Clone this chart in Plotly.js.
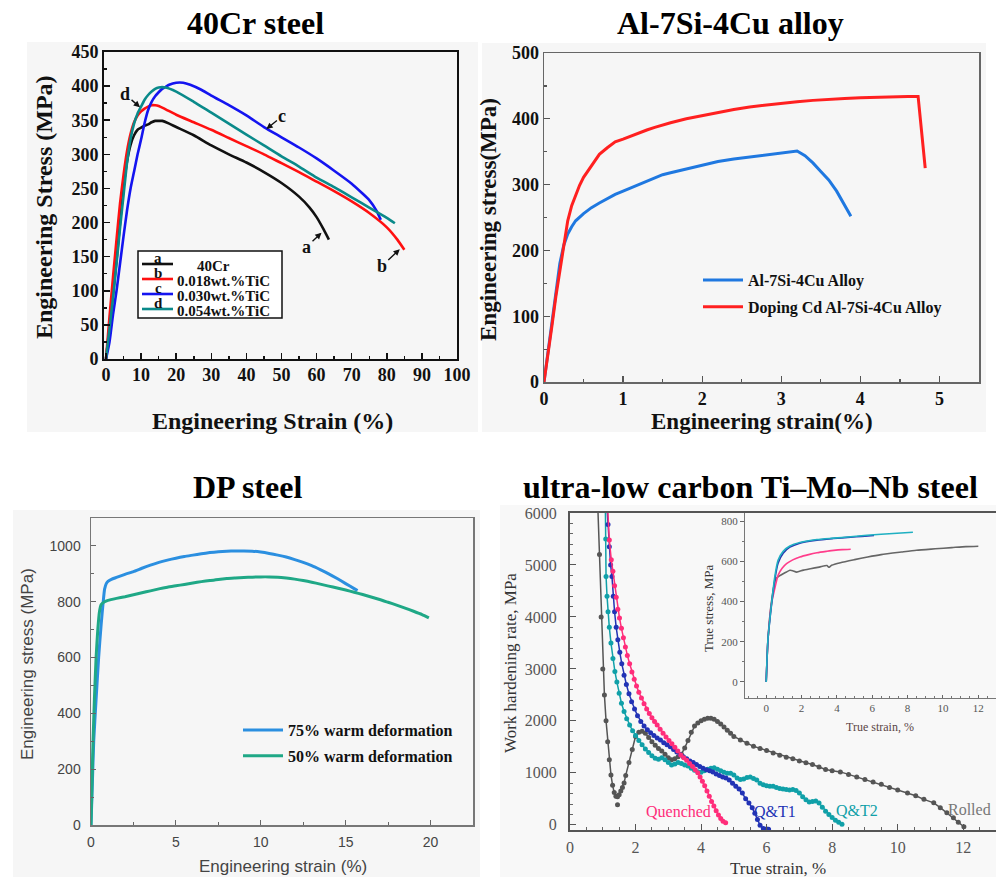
<!DOCTYPE html>
<html>
<head>
<meta charset="utf-8">
<script src="https://cdn.plot.ly/plotly-3.0.1.min.js"></script>
<style>html,body{margin:0;padding:0;background:#fff;}#chart{width:996px;height:877px;}</style>
</head>
<body>
<div id="chart"></div>
<script>
// ---------- Panel 1: 40Cr steel ----------
const cr_a_strain = [0,1,2,3,4,5,6,7,8,9,10,11,12,13,14,15,16,18,20,25,30,35,40,45,50,55,58,60,62,63.5];
const cr_a_stress = [0,47,95,145,200,252,290,314,328,336,339,342,344,347,349,349,349,345,340,328,313,300,288,274,258,238,222,208,190,175];
const cr_b_strain = [0,1,2,3,4,5,6,7,8,9,10,11,12,13,14,15,17,20,25,30,35,40,45,50,55,60,65,70,75,80,83,85];
const cr_b_stress = [0,62,120,175,228,270,305,330,347,357,363,367,370,372,372,371,366,358,347,336,324,312,300,287,274,260,246,231,214,193,175,160];
const cr_c_strain = [0,1,2,3,4,5,6,7,8,9,10,11,12,13,14,15,16,17,18,20,22,24,27,30,35,40,45,50,55,60,65,70,73,75,77,78.3];
const cr_c_stress = [0,25,65,100,140,180,218,250,275,300,322,346,365,377,385,391,396,399,402,405,405,402,395,386,372,357,340,325,310,294,276,257,243,233,218,204];
const cr_d_strain = [0,1,2,3,4,5,6,7,8,9,10,11,12,13,14,15,17,20,25,30,35,40,45,50,55,60,65,70,75,80,82.3];
const cr_d_stress = [0,45,90,140,192,240,288,323,345,360,370,380,387,392,396,398,398,392,377,361,345,329,313,297,282,266,252,237,222,207,199];
const cr_names = ['40Cr','0.018wt.%TiC','0.030wt.%TiC','0.054wt.%TiC'];
const cr_letters = ['a','b','c','d'];

// ---------- Panel 2: Al-7Si-4Cu alloy ----------
const al_base_strain = [0,0.05,0.1,0.15,0.2,0.25,0.3,0.35,0.4,0.5,0.6,0.7,0.8,0.9,1.0,1.1,1.2,1.3,1.4,1.5,1.6,1.8,2.0,2.2,2.4,2.6,2.8,3.0,3.1,3.2,3.3,3.4,3.5,3.6,3.7,3.8,3.88];
const al_base_stress = [0,45,95,140,180,208,225,236,245,256,265,272,279,285,290,295,300,305,310,315,318,324,330,335,339,342,346,349,350,351,344,333,320,307,290,270,252];
const al_cd_strain = [0,0.05,0.1,0.15,0.2,0.25,0.3,0.35,0.4,0.45,0.5,0.55,0.6,0.65,0.7,0.8,0.9,1.0,1.1,1.2,1.3,1.4,1.5,1.6,1.8,2.0,2.2,2.4,2.6,2.8,3.0,3.2,3.4,3.6,3.8,4.0,4.2,4.4,4.6,4.73,4.76,4.79,4.82];
const al_cd_stress = [0,40,85,130,170,210,245,268,285,299,311,320,328,337,346,356,365,369,374,379,383,387,391,394,400,405,410,414,418,421,424,426,428,430,431,432,433,434,434,434,400,360,325];
const al_names = ['Al-7Si-4Cu Alloy','Doping Cd Al-7Si-4Cu Alloy'];

// ---------- Panel 3: DP steel ----------
const dp75_strain = [0,0.08,0.16,0.3,0.45,0.6,0.72,0.8,0.9,1.0,1.2,1.5,2,2.5,3,3.5,4,4.5,5,5.5,6,6.5,7,7.5,8,8.5,9,9.5,10,10.5,11,11.5,12,12.5,13,13.5,14,14.5,15,15.5,15.7];
const dp75_stress = [0,150,300,450,600,720,800,845,865,873,880,887,898,908,920,931,941,949,956,962,967,972,976,979,981,982,982,981,978,973,967,960,951,941,929,915,900,883,865,847,840];
const dp50_strain = [0,0.06,0.12,0.2,0.3,0.4,0.5,0.6,0.8,1,1.5,2,2.5,3,3.5,4,4.5,5,5.5,6,6.5,7,7.5,8,8.5,9,9.5,10,10.5,11,11.5,12,12.5,13,13.5,14,14.5,15,15.5,16,16.5,17,17.5,18,18.5,19,19.5,19.9];
const dp50_stress = [0,150,300,450,600,700,765,790,800,805,812,818,825,832,839,846,852,857,862,867,872,876,880,883,885,887,888,889,889,888,885,881,876,870,863,856,849,842,834,826,817,808,798,788,777,766,754,742];
const dp_names = ['75% warm deformation','50% warm deformation'];

// ---------- Panel 4: ultra-low carbon Ti-Mo-Nb steel (work hardening rate) ----------
const q_strain = [1.15,1.2,1.26,1.31,1.36,1.41,1.46,1.51,1.57,1.63,1.69,1.75,1.82,1.89,1.96,2.03,2.1,2.18,2.26,2.34,2.42,2.5,2.58,2.66,2.75,2.84,2.93,3.02,3.11,3.2,3.29,3.38,3.47,3.56,3.65,3.74,3.82,3.9,3.97,4.04,4.11,4.18,4.25,4.32,4.39,4.46,4.53,4.6,4.67,4.75];
const q_rate = [6100,5480,5100,4880,4600,4380,4150,3980,3780,3600,3420,3260,3100,2940,2800,2670,2550,2440,2330,2230,2140,2060,1990,1920,1840,1760,1690,1620,1560,1490,1420,1345,1290,1240,1180,1120,1060,1000,920,840,750,650,550,450,360,270,190,120,70,40];
const qt1_strain = [1.13,1.16,1.2,1.24,1.28,1.32,1.36,1.41,1.46,1.52,1.58,1.65,1.72,1.8,1.88,1.97,2.06,2.16,2.26,2.36,2.46,2.56,2.66,2.76,2.86,2.96,3.06,3.16,3.26,3.36,3.46,3.56,3.66,3.76,3.86,3.96,4.06,4.16,4.26,4.36,4.46,4.56,4.66,4.76,4.86,4.96,5.06,5.16,5.26,5.36,5.46,5.56,5.64,5.72,5.8,5.9,6.0,6.06];
const qt1_rate = [6100,5780,5350,5000,4780,4400,4100,3800,3560,3320,3100,2880,2700,2520,2370,2230,2100,1990,1900,1830,1770,1720,1670,1630,1580,1540,1500,1450,1400,1355,1310,1270,1230,1200,1160,1120,1090,1060,1040,1015,980,950,920,900,860,800,740,690,610,500,420,330,220,100,-10,-70,-80,-85];
const qt2_strain = [1.08,1.09,1.1,1.13,1.16,1.2,1.25,1.31,1.37,1.43,1.5,1.57,1.65,1.73,1.82,1.91,2.0,2.1,2.2,2.3,2.4,2.5,2.6,2.7,2.8,2.9,3.0,3.1,3.2,3.3,3.4,3.5,3.6,3.7,3.8,3.9,4.0,4.1,4.2,4.3,4.4,4.5,4.6,4.7,4.8,4.9,5.0,5.1,5.2,5.3,5.4,5.5,5.6,5.7,5.8,5.9,6.0,6.1,6.2,6.3,6.4,6.5,6.6,6.7,6.8,6.9,7.0,7.1,7.2,7.3,7.4,7.5,7.6,7.7,7.8,7.9,8.0,8.1,8.2,8.3];
const qt2_rate = [6100,5500,4780,4400,4100,3800,3500,3200,2950,2750,2530,2340,2180,2040,1920,1810,1720,1620,1540,1460,1390,1330,1280,1260,1290,1250,1200,1150,1170,1200,1180,1150,1130,1090,1050,1020,1010,1040,1070,1090,1100,1070,1040,1010,990,990,960,900,870,880,910,920,890,860,800,770,750,740,740,720,700,690,680,670,680,660,610,540,480,440,450,460,420,340,260,200,140,90,50,10];
const rolled_strain = [0.85,0.9,0.95,1.0,1.05,1.1,1.15,1.2,1.25,1.3,1.35,1.4,1.45,1.5,1.55,1.6,1.65,1.7,1.8,1.9,2.0,2.1,2.2,2.3,2.4,2.5,2.6,2.7,2.8,2.9,3.0,3.1,3.2,3.3,3.4,3.5,3.6,3.7,3.8,3.9,4.0,4.1,4.2,4.3,4.4,4.5,4.6,4.7,4.8,4.9,5.0,5.2,5.4,5.6,5.8,6.0,6.2,6.4,6.6,6.8,7.0,7.2,7.4,7.6,7.8,8.0,8.25,8.5,8.75,9.0,9.25,9.5,9.75,10.0,10.3,10.55,10.8,11.1,11.3,11.5,11.7,11.85,12.02];
const rolled_rate = [6100,5200,4000,3000,2500,2000,1600,1250,960,760,620,550,540,580,650,720,806,950,1200,1450,1700,1780,1800,1760,1680,1600,1530,1470,1420,1360,1290,1250,1270,1310,1360,1480,1620,1780,1900,1960,2000,2030,2049,2050,2030,1990,1940,1880,1820,1760,1700,1633,1570,1510,1470,1430,1383,1340,1300,1270,1230,1195,1160,1110,1065,1040,1018,970,920,870,826,780,720,670,614,560,490,422,330,230,134,50,-38];
const rolled_extra_strain = [1.45];
const rolled_extra_rate = [384];
const hr_names = ['Quenched','Q&T1','Q&T2','Rolled'];

// ---------- Inset: true stress-strain ----------
const in_qt2_strain = [0,0.1,0.29,0.48,0.67,0.96,1.34,1.9,2.87,3.8,4.78,5.7,6.5,7.4,8.3];
const in_qt2_stress = [0,215,380,520,605,650,676,693,708,715,722,729,734,739,744];
const in_qt1_strain = [0,0.1,0.29,0.48,0.67,0.96,1.34,1.9,2.87,3.8,4.78,5.4,6.1];
const in_qt1_stress = [0,210,375,505,590,640,670,690,705,713,720,724,728];
const in_q_strain = [0,0.1,0.3,0.48,0.67,0.9,1.15,1.5,1.9,2.4,2.87,3.4,3.82,4.3,4.78];
const in_q_stress = [0,210,390,463,530,565,588,607,621,633,642,649,654,658,660];
const in_r_strain = [0,0.1,0.3,0.54,0.75,0.96,1.15,1.34,1.5,1.72,2.1,2.5,3.0,3.44,3.54,3.7,4.2,5.0,5.74,6.5,7.65,8.5,9.56,10.5,11.3,12];
const in_r_stress = [0,210,400,513,527,538,547,555,553,546,556,563,571,579,570,580,593,608,621,633,646,655,662,668,673,675];

// ---------- Styling helpers ----------
const SERIF = '"Liberation Serif", "Times New Roman", Times, serif';
const SANS = '"Liberation Sans", Arial, Helvetica, sans-serif';
const W = 996, H = 877;
const px = v => v / W;
const py = v => 1 - v / H;

const traces = [];
const crColors = ['#111111','#ff1010','#1414f0','#0a8a8a'];
const crX = [cr_a_strain, cr_b_strain, cr_c_strain, cr_d_strain];
const crY = [cr_a_stress, cr_b_stress, cr_c_stress, cr_d_stress];
for (let i = 0; i < 4; i++) {
  traces.push({x: crX[i], y: crY[i], xaxis:'x', yaxis:'y', type:'scatter', mode:'lines',
    name: cr_names[i], showlegend:false, line:{color:crColors[i], width:2.6, shape:'spline', smoothing:0.6}});
}
const alColors = ['#1f78e0','#ff2020'];
traces.push({x: al_base_strain, y: al_base_stress, xaxis:'x2', yaxis:'y2', type:'scatter', mode:'lines',
  name: al_names[0], legend:'legend2', legendgroup:'a1', line:{color:alColors[0], width:3}});
traces.push({x: al_cd_strain, y: al_cd_stress, xaxis:'x2', yaxis:'y2', type:'scatter', mode:'lines',
  name: al_names[1], legend:'legend2', legendgroup:'a2', line:{color:alColors[1], width:3}});

const dpColors = ['#2b8fe0','#1fa886'];
traces.push({x: dp75_strain, y: dp75_stress, xaxis:'x3', yaxis:'y3', type:'scatter', mode:'lines',
  name: dp_names[0], legend:'legend3', legendgroup:'d1', line:{color:dpColors[0], width:3, shape:'spline', smoothing:0.5}});
traces.push({x: dp50_strain, y: dp50_stress, xaxis:'x3', yaxis:'y3', type:'scatter', mode:'lines',
  name: dp_names[1], legend:'legend3', legendgroup:'d2', line:{color:dpColors[1], width:3, shape:'spline', smoothing:0.5}});

const hrColors = {q:'#ff2d7a', qt1:'#2233b5', qt2:'#10a0a8', r:'#555555'};
function hrTrace(x, y, c, name) {
  return {x, y, xaxis:'x4', yaxis:'y4', type:'scatter', mode:'lines+markers', name, showlegend:false,
    line:{color:c, width:1.5}, marker:{color:c, size:5}, cliponaxis:true};
}
traces.push(hrTrace(rolled_strain, rolled_rate, hrColors.r, hr_names[3]));
traces.push({x: rolled_extra_strain, y: rolled_extra_rate, xaxis:'x4', yaxis:'y4', type:'scatter', mode:'markers',
  showlegend:false, name: hr_names[3], marker:{color:hrColors.r, size:5}});
traces.push(hrTrace(qt2_strain, qt2_rate, hrColors.qt2, hr_names[2]));
traces.push(hrTrace(qt1_strain, qt1_rate, hrColors.qt1, hr_names[1]));
traces.push(hrTrace(q_strain, q_rate, hrColors.q, hr_names[0]));

const inColors = {qt2:'#1fb0c2', qt1:'#2838b0', q:'#ff3d8b', r:'#666666'};
function inTrace(x, y, c, name) {
  return {x, y, xaxis:'x5', yaxis:'y5', type:'scatter', mode:'lines', name, showlegend:false,
    line:{color:c, width:1.6, shape:'spline', smoothing:0.6}};
}
traces.push(inTrace(in_r_strain, in_r_stress, inColors.r, hr_names[3]));
traces.push(inTrace(in_q_strain, in_q_stress, inColors.q, hr_names[0]));
traces.push(inTrace(in_qt1_strain, in_qt1_stress, inColors.qt1, hr_names[1]));
traces.push(inTrace(in_qt2_strain, in_qt2_stress, inColors.qt2, hr_names[2]));

function axisBase(o) {
  return Object.assign({showgrid:false, zeroline:false, showline:true, fixedrange:true}, o);
}
const boldSerif = (size, color) => ({family: SERIF, size, color: color || '#111', weight: 'bold'});

const layout = {
  width: W, height: H, margin:{l:0, r:0, t:0, b:0},
  paper_bgcolor:'#ffffff', plot_bgcolor:'rgba(0,0,0,0)',
  showlegend: true,
  // Panel 1
  xaxis: axisBase({domain:[px(104), px(457)], range:[-0.57, 100], anchor:'y', linecolor:'#111', linewidth:2, mirror:true,
    ticks:'inside', ticklen:6, tickwidth:1.5, tickcolor:'#111', tick0:0, dtick:10,
    minor:{dtick:5, ticks:'inside', ticklen:3, tickcolor:'#111', tickwidth:1.5},
    tickfont: boldSerif(18), ticklabelstandoff:-2}),
  yaxis: axisBase({domain:[py(359), py(52)], range:[0, 450], anchor:'x', linecolor:'#111', linewidth:2, mirror:true,
    ticks:'inside', ticklen:6, tickwidth:1.5, tickcolor:'#111', tick0:0, dtick:50,
    minor:{dtick:25, ticks:'inside', ticklen:3, tickcolor:'#111', tickwidth:1.5},
    tickfont: boldSerif(18)}),
  // Panel 2
  xaxis2: axisBase({domain:[px(544), px(979)], range:[0, 5.5], anchor:'y2', linecolor:'#666', linewidth:1.5, mirror:true,
    ticks:'inside', ticklen:6, tickwidth:1.2, tickcolor:'#555', tick0:0, dtick:1,
    minor:{dtick:0.5, ticks:'inside', ticklen:3, tickcolor:'#555'},
    tickfont: boldSerif(18)}),
  yaxis2: axisBase({domain:[py(382), py(53)], range:[0, 500], anchor:'x2', linecolor:'#666', linewidth:1.5, mirror:true,
    ticks:'inside', ticklen:6, tickwidth:1.2, tickcolor:'#555', tick0:0, dtick:100,
    minor:{dtick:50, ticks:'inside', ticklen:3, tickcolor:'#555'},
    tickfont: boldSerif(18)}),
  // Panel 3
  xaxis3: axisBase({domain:[px(91), px(473)], range:[0, 22.5], anchor:'y3', linecolor:'#777', linewidth:1.5, mirror:true,
    ticks:'inside', ticklen:5, tickcolor:'#666', tick0:0, dtick:5,
    minor:{dtick:2.5, ticks:'inside', ticklen:3, tickcolor:'#666'},
    tickfont:{family:SANS, size:14, color:'#444'}, ticklabelstandoff:4}),
  yaxis3: axisBase({domain:[py(825), py(518)], range:[0, 1100], anchor:'x3', linecolor:'#777', linewidth:1.5, mirror:true,
    ticks:'inside', ticklen:5, tickcolor:'#666', tick0:0, dtick:200,
    minor:{dtick:100, ticks:'inside', ticklen:3, tickcolor:'#666'},
    tickfont:{family:SANS, size:14, color:'#444'}, ticklabelstandoff:6}),
  // Panel 4
  xaxis4: axisBase({domain:[px(570), 1], range:[0, 13], anchor:'y4', linecolor:'#555', linewidth:2, mirror:true,
    ticks:'inside', ticklen:6, tickcolor:'#555', tick0:0, dtick:2,
    minor:{dtick:0.5, ticks:'inside', ticklen:3, tickcolor:'#666'},
    tickfont:{family:SERIF, size:16, color:'#555'}, ticklabelstandoff:2}),
  yaxis4: axisBase({domain:[py(830), py(513)], range:[-100, 6000], anchor:'x4', linecolor:'#555', linewidth:2, mirror:false,
    ticks:'inside', ticklen:6, tickcolor:'#555', tick0:0, dtick:1000,
    minor:{dtick:200, ticks:'inside', ticklen:3, tickcolor:'#666'},
    tickfont:{family:SERIF, size:16, color:'#555'}, ticklabelstandoff:8}),
  // Inset
  xaxis5: axisBase({domain:[px(745), 1], range:[-1.2, 13], anchor:'y5', linecolor:'#777', linewidth:1,
    ticks:'inside', ticklen:3, tickcolor:'#666', tick0:0, dtick:2,
    minor:{dtick:0.5, ticks:'inside', ticklen:2, tickcolor:'#777'},
    tickfont:{family:SERIF, size:11, color:'#555'}}),
  yaxis5: axisBase({domain:[py(698), py(513)], range:[-80, 840], anchor:'x5', linecolor:'#777', linewidth:1,
    ticks:'outside', ticklen:4, tickcolor:'#666', tick0:0, dtick:200,
    minor:{dtick:100, ticks:'outside', ticklen:2, tickcolor:'#777'},
    tickfont:{family:SERIF, size:11, color:'#555'}}),
  legend2: {x: px(698), y: py(263), xanchor:'left', yanchor:'top', bgcolor:'rgba(255,255,255,0)', borderwidth:0,
    font: boldSerif(16), tracegroupgap:3, traceorder:'grouped', itemwidth:40},
  legend3: {x: px(238), y: py(713), xanchor:'left', yanchor:'top', bgcolor:'rgba(255,255,255,0)', borderwidth:0,
    font: boldSerif(16), tracegroupgap:2, traceorder:'grouped', itemwidth:40},
  shapes: [
    {type:'rect', xref:'paper', yref:'paper', x0:px(27), x1:px(478), y0:py(432), y1:py(42), fillcolor:'#f6f6f6', line:{width:0}, layer:'below'},
    {type:'rect', xref:'paper', yref:'paper', x0:px(482), x1:px(986), y0:py(432), y1:py(43), fillcolor:'#f6f6f6', line:{width:0}, layer:'below'},
    {type:'rect', xref:'paper', yref:'paper', x0:px(13), x1:px(480), y0:0, y1:py(510), fillcolor:'#f6f6f6', line:{width:0}, layer:'below'},
    {type:'rect', xref:'paper', yref:'paper', x0:px(500), x1:1, y0:0, y1:py(505), fillcolor:'#f8f8f8', line:{width:0}, layer:'below'}
  ],
  annotations: []
};

const ann = layout.annotations;
function paperText(text, x, y, font, extra) {
  ann.push(Object.assign({text, xref:'paper', yref:'paper', x:px(x), y:py(y), xanchor:'center', yanchor:'middle',
    showarrow:false, font}, extra || {}));
}
// Panel titles
paperText('40Cr steel', 255, 23, boldSerif(32, '#000'));
paperText('Al-7Si-4Cu alloy', 730, 23, boldSerif(32, '#000'));
paperText('DP steel', 247, 487, boldSerif(32, '#000'));
paperText('ultra-low carbon Ti–Mo–Nb steel', 750, 487, boldSerif(32, '#000'));
// Axis titles
paperText('Engineering Stress (MPa)', 44, 207, boldSerif(24, '#111'), {textangle:-90});
paperText('Engineering Strain (%)', 272, 421, boldSerif(24, '#111'));
paperText('Engineering stress(MPa)', 488, 220, boldSerif(23, '#111'), {textangle:-90});
paperText('Engineering strain(%)', 762, 421, boldSerif(23, '#111'));
paperText('Engineering stress (MPa)', 27, 664, {family:SANS, size:17, color:'#444'}, {textangle:-90});
paperText('Engineering strain (%)', 283, 866, {family:SANS, size:17, color:'#444'});
paperText('Work hardening rate, MPa', 510, 663, {family:SERIF, size:17, color:'#333'}, {textangle:-90});
paperText('True strain, %', 778, 868, {family:SERIF, size:17, color:'#333'});
paperText('True stress, MPa', 708, 608, {family:SERIF, size:13, color:'#333'}, {textangle:-90});
paperText('True strain, %', 880, 727, {family:SERIF, size:12, color:'#5a4545'});

// Panel 1 legend (box, line samples, letters, names)
const leg1Rows = [264, 279, 294, 309];
layout.shapes.push({type:'rect', xref:'paper', yref:'paper', x0:px(138), x1:px(282), y0:py(318), y1:py(251),
  fillcolor:'#ffffff', line:{color:'#111', width:1.5}});
leg1Rows.forEach((yy, i) => {
  layout.shapes.push({type:'line', xref:'paper', yref:'paper', x0:px(142), x1:px(173), y0:py(yy), y1:py(yy),
    line:{color:crColors[i], width:2.6}});
  paperText(cr_letters[i], 158, yy - 6, boldSerif(15, '#111'));
  if (i === 0) paperText(cr_names[i], 213, yy + 2, boldSerif(15, '#111'));
  else paperText(cr_names[i], 175, yy + 2, boldSerif(15, '#111'), {xanchor:'left'});
});

// Curve letter callouts in panel 1
const callouts = [
  {t:'a', x:61.4, y:185, ax:-15, ay:14},
  {t:'b', x:83.7, y:161, ax:-18, ay:17},
  {t:'c', x:45.7, y:337, ax:16, ay:-13},
  {t:'d', x:9.7, y:369, ax:-15, ay:-13}
];
callouts.forEach(c => ann.push({text:c.t, x:c.x, y:c.y, xref:'x', yref:'y', ax:c.ax, ay:c.ay, showarrow:true,
  arrowhead:2, arrowsize:0.9, arrowwidth:1.4, arrowcolor:'#111', font:boldSerif(18, '#111'), standoff:0}));

// Curve labels in panel 4
const hrLabels = [
  {t:'Quenched', x:3.32, y:250, c:hrColors.q},
  {t:'Q&amp;T1', x:6.27, y:250, c:hrColors.qt1},
  {t:'Q&amp;T2', x:8.76, y:270, c:hrColors.qt2},
  {t:'Rolled', x:12.2, y:290, c:'#777'}
];
hrLabels.forEach(l => ann.push({text:l.t, x:l.x, y:l.y, xref:'x4', yref:'y4', showarrow:false,
  xanchor:'center', yanchor:'middle', font:{family:SERIF, size:16, color:l.c}}));

Plotly.newPlot('chart', traces, layout, {displayModeBar:false, staticPlot:true});
</script>
</body>
</html>
